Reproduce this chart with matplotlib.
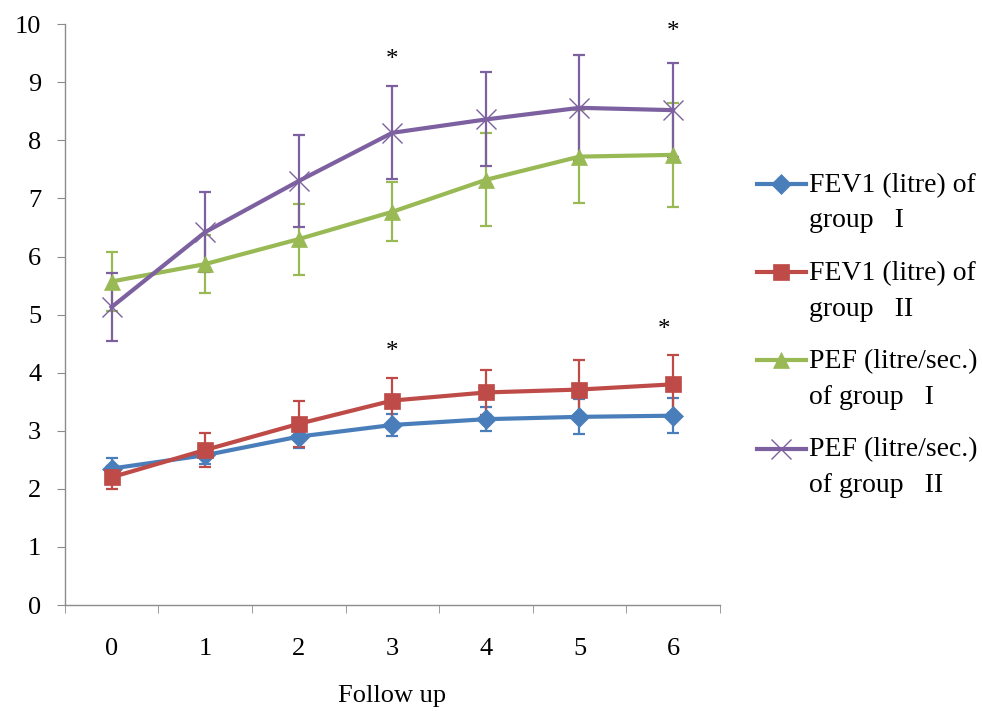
import matplotlib
matplotlib.use("Agg")
import matplotlib.pyplot as plt
from matplotlib.legend_handler import HandlerLine2D
from matplotlib.transforms import Affine2D

# Data
follow_up = [0, 1, 2, 3, 4, 5, 6]

fev1_g1 = [2.35, 2.58, 2.90, 3.10, 3.20, 3.24, 3.26]
fev1_g1_err = [0.18, 0.15, 0.20, 0.19, 0.21, 0.30, 0.30]

fev1_g2 = [2.20, 2.67, 3.12, 3.52, 3.66, 3.71, 3.80]
fev1_g2_err = [0.20, 0.30, 0.40, 0.39, 0.38, 0.51, 0.50]

pef_g1 = [5.57, 5.87, 6.30, 6.77, 7.32, 7.72, 7.75]
pef_g1_err = [0.50, 0.50, 0.61, 0.51, 0.80, 0.80, 0.90]

pef_g2 = [5.13, 6.42, 7.30, 8.13, 8.36, 8.56, 8.52]
pef_g2_err = [0.59, 0.69, 0.79, 0.80, 0.81, 0.91, 0.81]

labels = [
    "FEV1 (litre) of\ngroup   I",
    "FEV1 (litre) of\ngroup   II",
    "PEF (litre/sec.)\nof group   I",
    "PEF (litre/sec.)\nof group   II",
]

# significance markers (x, y)
star_x = [3, 6, 3, 5.9]
star_y = [9.38, 9.86, 4.35, 4.73]

LINESPACING = 1.55
HANDLE_SHIFT = 0.68  # in units of fontsize


class FirstLineHandler(HandlerLine2D):
    """Legend handle aligned with the first line of a two-line label."""

    def create_artists(self, legend, orig_handle, xdescent, ydescent,
                       width, height, fontsize, trans):
        artists = super().create_artists(legend, orig_handle, xdescent, ydescent,
                                         width, height, fontsize, trans)
        shift = Affine2D().translate(0, HANDLE_SHIFT * fontsize)
        for a in artists:
            a.set_transform(shift + trans)
        return artists


plt.rcParams["font.family"] = ["Liberation Serif", "DejaVu Serif"]

fig = plt.figure(figsize=(9.82, 7.11), dpi=100)
ax = fig.add_axes([0.066, 0.149, 0.667, 0.817])

series = [
    (fev1_g1, fev1_g1_err, "#4A7EBB", "D", 10, labels[0]),
    (fev1_g2, fev1_g2_err, "#BE4B48", "s", 12, labels[1]),
    (pef_g1, pef_g1_err, "#98B954", "^", 12, labels[2]),
    (pef_g2, pef_g2_err, "#7D60A0", "x", 14, labels[3]),
]

handles = []
for ys, err, col, mk, ms, lab in series:
    ax.errorbar(follow_up, ys, yerr=err, fmt="none", ecolor=col,
                elinewidth=1.6, capsize=4, capthick=1.6, zorder=2)
    mew = 1.0 if mk == "x" else 0.5
    (ln,) = ax.plot(follow_up, ys, color=col, lw=3, marker=mk, markersize=ms,
                    markeredgecolor=col, markeredgewidth=mew, label=lab, zorder=3)
    handles.append(ln)

for sx, sy in zip(star_x, star_y):
    ax.text(sx, sy, "*", ha="center", va="center", fontsize=18)

ax.set_xlim(-0.5, 6.5)
ax.set_ylim(0, 10)
ax.set_yticks(range(0, 11))
ax.set_xticks(follow_up)
ax.set_xticks([i - 0.5 for i in range(8)], minor=True)
ax.tick_params(axis="x", which="major", length=0, pad=24, labelsize=19)
ax.tick_params(axis="x", which="minor", length=6, color="#8c8c8c")
ax.tick_params(axis="y", length=6, color="#8c8c8c", labelsize=19, pad=11)

for side in ["top", "right"]:
    ax.spines[side].set_visible(False)
for side in ["left", "bottom"]:
    ax.spines[side].set_color("#8c8c8c")
    ax.spines[side].set_linewidth(1.0)

ax.set_xlabel("Follow up", fontsize=19, labelpad=18)

leg = fig.legend(handles=handles, loc="upper left", bbox_to_anchor=(0.771, 0.757),
                 frameon=False, fontsize=20, handlelength=1.75, handletextpad=0.1,
                 labelspacing=1.0, borderaxespad=0, borderpad=0,
                 handler_map={plt.Line2D: FirstLineHandler()})
for t in leg.get_texts():
    t.set_linespacing(LINESPACING)

fig.savefig("out.png", dpi=100)
